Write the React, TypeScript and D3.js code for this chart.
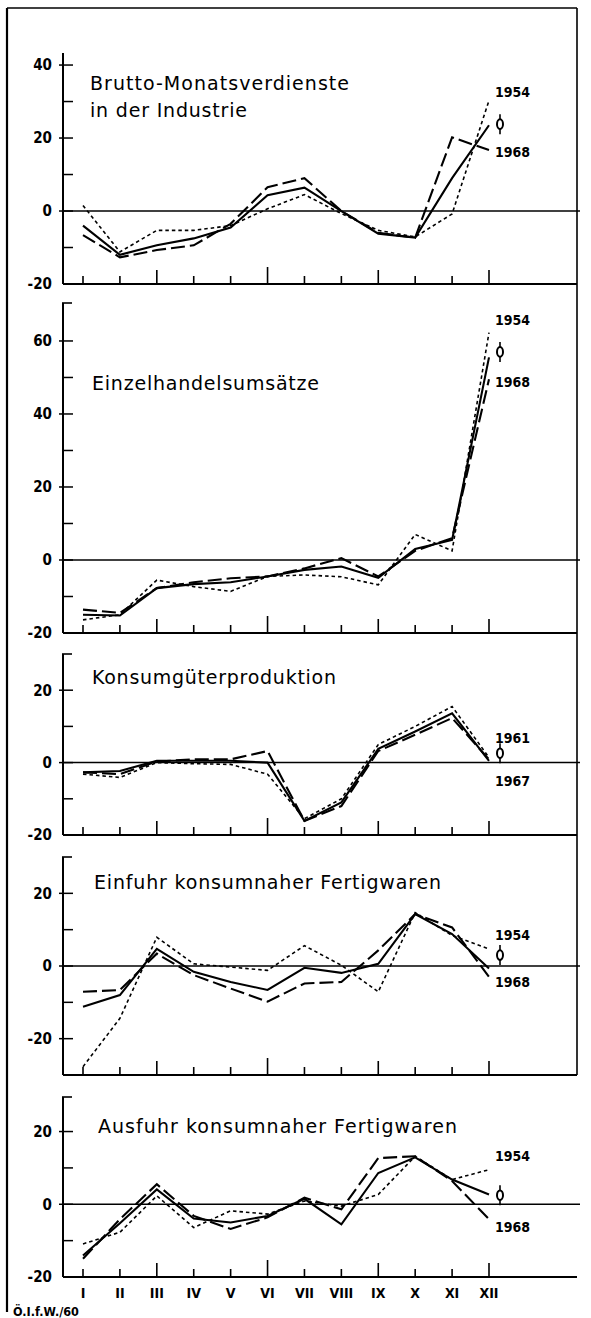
import * as d3 from 'd3';

const months = ['I', 'II', 'III', 'IV', 'V', 'VI', 'VII', 'VIII', 'IX', 'X', 'XI', 'XII'];

// Brutto-Monatsverdienste in der Industrie
const bruttoAvg = [-4, -12, -9.4, -7.5, -4.5, 4.3, 6.4, 0, -6.2, -7.3, 9, 23.5];
const brutto1968 = [-6.6, -12.7, -10.7, -9.4, -3.5, 6.5, 9, 0, -6, -7.3, 20.2, 16.7];
const brutto1954 = [1.5, -11.2, -5.3, -5.3, -4, 0.6, 4.5, -0.7, -5.3, -7.1, -0.8, 30.3];

// Einzelhandelsumsätze
const handelAvg = [-15, -15.2, -7.7, -6.6, -6.1, -4.5, -2.7, -1.8, -4.9, 3, 5.5, 55.5];
const handel1968 = [-13.6, -14.5, -7.7, -6.1, -5, -4.5, -2.3, 0.5, -4.5, 2.5, 6, 49.5];
const handel1954 = [-16.4, -15, -5.5, -7.3, -8.6, -4.5, -4.1, -4.6, -6.8, 7, 2.5, 62.3];

// Konsumgüterproduktion
const konsumAvg = [-2.7, -2.3, 0.5, 0.5, 0.5, 0, -16.1, -11, 3.8, 8.6, 13.6, 0.5];
const konsum1967 = [-2.7, -3.2, 0.3, 0.9, 0.9, 3.2, -16.1, -12, 3.2, 7.7, 12.3, 0.9];
const konsum1961 = [-3.2, -4.1, 0, -0.3, -0.5, -3.2, -15.5, -10, 5, 10, 15.5, 1.4];

// Einfuhr konsumnaher Fertigwaren
const einfuhrAvg = [-11.2, -8, 4.7, -1.6, -4.4, -6.6, -0.5, -1.9, 0.6, 14.3, 8.8, -0.7];
const einfuhr1968 = [-7.1, -6.6, 3.4, -2.5, -6.2, -9.8, -4.8, -4.4, 4.3, 14.3, 10.6, -3];
const einfuhr1954 = [-27.7, -14.4, 7.9, 0.6, -0.3, -1.2, 5.6, 0.2, -7.1, 14.7, 8.4, 4.7];

// Ausfuhr konsumnaher Fertigwaren
const ausfuhrAvg = [-14.1, -5.2, 4.1, -3.9, -5, -3.2, 1.5, -5.5, 8.6, 12.9, 6.8, 2.7];
const ausfuhr1968 = [-15, -4.1, 5.5, -3.2, -6.8, -3.6, 1.8, -1.4, 12.7, 13.2, 6.4, -4.1];
const ausfuhr1954 = [-10.9, -7.7, 2.3, -6.4, -1.8, -2.7, 0.9, -0.5, 2.7, 13.2, 6.8, 9.5];

const FONT_TITLE = '"DejaVu Sans", sans-serif';
const FONT_NUM = '"DejaVu Sans Condensed", "DejaVu Sans", sans-serif';

interface PanelDef {
  title: string[];
  titleX: number;
  titleY: number[];
  titleLen: number[];
  domain: [number, number];
  range: [number, number];
  ticks: number[];
  minor: number[];
  bracket: boolean;
  avg: number[];
  recent: number[];
  early: number[];
  yearTop: string;
  yearBottom: string;
  labelVals: [number, number, number];
}

const panels: PanelDef[] = [
  {
    title: ['Brutto-Monatsverdienste', 'in der Industrie'], titleX: 90, titleY: [90, 117], titleLen: [259, 157],
    domain: [-20, 43.3], range: [284, 53], ticks: [40, 20, 0, -20], minor: [30, 10, -10], bracket: false,
    avg: bruttoAvg, recent: brutto1968, early: brutto1954, yearTop: '1954', yearBottom: '1968', labelVals: [32.6, 23.8, 16.2],
  },
  {
    title: ['Einzelhandelsumsätze'], titleX: 92, titleY: [390], titleLen: [227],
    domain: [-20, 70.4], range: [633, 303], ticks: [60, 40, 20, 0, -20], minor: [50, 30, 10, -10], bracket: true,
    avg: handelAvg, recent: handel1968, early: handel1954, yearTop: '1954', yearBottom: '1968', labelVals: [65.8, 57, 48.8],
  },
  {
    title: ['Konsumgüterproduktion'], titleX: 92, titleY: [684], titleLen: [244],
    domain: [-20, 30], range: [835, 654], ticks: [20, 0, -20], minor: [10, -10], bracket: true,
    avg: konsumAvg, recent: konsum1967, early: konsum1961, yearTop: '1961', yearBottom: '1967', labelVals: [6.9, 2.6, -5],
  },
  {
    title: ['Einfuhr konsumnaher Fertigwaren'], titleX: 94, titleY: [889], titleLen: [347],
    domain: [-30, 30], range: [1075, 857], ticks: [20, 0, -20], minor: [10, -10], bracket: true,
    avg: einfuhrAvg, recent: einfuhr1968, early: einfuhr1954, yearTop: '1954', yearBottom: '1968', labelVals: [8.5, 3, -4.4],
  },
  {
    title: ['Ausfuhr konsumnaher Fertigwaren'], titleX: 98, titleY: [1133], titleLen: [359],
    domain: [-20, 29.5], range: [1277, 1097], ticks: [20, 0, -20], minor: [10, -10], bracket: true,
    avg: ausfuhrAvg, recent: ausfuhr1968, early: ausfuhr1954, yearTop: '1954', yearBottom: '1968', labelVals: [13.2, 2.5, -6.3],
  },
];

const AXIS_X = 63;
const RIGHT_X = 577;
const x = d3.scalePoint<string>().domain(months).range([83, 489]);

// the average sign: an oval crossed by a vertical stroke
function AvgSign({ cx, cy }: { cx: number; cy: number }) {
  return (
    <g>
      <line x1={cx} x2={cx} y1={cy - 10} y2={cy + 10} stroke="#000" strokeWidth={1.6} />
      <ellipse cx={cx} cy={cy} rx={3} ry={4.8} fill="#fff" stroke="#000" strokeWidth={2} />
    </g>
  );
}

function Panel({ p, last }: { p: PanelDef; last: boolean }) {
  const y = d3.scaleLinear().domain(p.domain).range(p.range);
  const line = d3.line<number>().x((_, i) => x(months[i])!).y(d => y(d));
  const bottom = y(p.domain[0]);
  const top = y(p.domain[1]);
  const lx = x('XII')!;
  return (
    <g>
      {/* y axis */}
      <line x1={AXIS_X} x2={AXIS_X} y1={top} y2={bottom} stroke="#000" strokeWidth={2} />
      {p.bracket && <line x1={AXIS_X - 1} x2={AXIS_X + 9} y1={top} y2={top} stroke="#000" strokeWidth={1.6} />}
      {p.ticks.filter(t => t !== p.domain[0]).map(t => (
        <line key={'t' + t} x1={AXIS_X - 4} x2={AXIS_X + 10} y1={y(t)} y2={y(t)} stroke="#000" strokeWidth={1.5} />
      ))}
      {p.minor.map(t => (
        <line key={'m' + t} x1={AXIS_X} x2={AXIS_X + 10} y1={y(t)} y2={y(t)} stroke="#000" strokeWidth={1.5} />
      ))}
      {p.ticks.map(t => (
        <text key={'l' + t} x={52} y={y(t)} dy="0.36em" textAnchor="end" fontFamily={FONT_NUM}
          fontWeight="bold" fontSize={15}>{t < 0 ? `-${-t}` : t}</text>
      ))}
      {/* zero line and bottom axis */}
      <line x1={AXIS_X} x2={RIGHT_X + 3} y1={y(0)} y2={y(0)} stroke="#000" strokeWidth={1.5} />
      <line x1={AXIS_X} x2={RIGHT_X} y1={bottom} y2={bottom} stroke="#000" strokeWidth={2} />
      {months.map((m, i) => {
        const h = i === 5 ? 17 : (i + 1) % 3 === 0 ? 14 : 8;
        return <line key={m} x1={x(m)} x2={x(m)} y1={bottom} y2={bottom - h} stroke="#000" strokeWidth={1.6} />;
      })}
      {last && months.map(m => (
        <text key={'x' + m} x={x(m)} y={bottom + 16} dy="0.36em" textAnchor="middle" fontFamily={FONT_NUM}
          fontWeight="bold" fontSize={14}>{m}</text>
      ))}
      {/* title */}
      {p.title.map((t, i) => (
        <text key={t} x={p.titleX} y={p.titleY[i]} fontFamily={FONT_TITLE} fontSize={19}
          textLength={p.titleLen[i]} lengthAdjust="spacing">{t}</text>
      ))}
      {/* series */}
      <path d={line(p.early)!} fill="none" stroke="#000" strokeWidth={1.6} strokeDasharray="3.5,3" />
      <path d={line(p.recent)!} fill="none" stroke="#000" strokeWidth={2.1} strokeDasharray="14,5" />
      <path d={line(p.avg)!} fill="none" stroke="#000" strokeWidth={2.1} />
      {/* series labels */}
      <text x={lx + 6} y={y(p.labelVals[0])} dy="0.36em" fontFamily={FONT_NUM} fontWeight="bold" fontSize={14}>{p.yearTop}</text>
      <AvgSign cx={lx + 11} cy={y(p.labelVals[1])} />
      <text x={lx + 6} y={y(p.labelVals[2])} dy="0.36em" fontFamily={FONT_NUM} fontWeight="bold" fontSize={14}>{p.yearBottom}</text>
    </g>
  );
}

export default function App() {
  return (
    <svg width={591} height={1318} viewBox="0 0 591 1318"
      style={{ position: 'absolute', left: 0, top: 0, background: '#fff' }}>
      <rect x={0} y={0} width={591} height={1318} fill="#fff" />
      {/* outer frame */}
      <line x1={7} x2={RIGHT_X} y1={8} y2={8} stroke="#000" strokeWidth={1.5} />
      <line x1={7} x2={7} y1={8} y2={1312} stroke="#000" strokeWidth={2.2} />
      <line x1={RIGHT_X} x2={RIGHT_X} y1={8} y2={1075} stroke="#000" strokeWidth={1.6} />
      {panels.map((p, i) => <Panel key={i} p={p} last={i === panels.length - 1} />)}
      <text x={13} y={1316} fontFamily={FONT_NUM} fontWeight="bold" fontSize={12.5}>Ö.I.f.W./60</text>
    </svg>
  );
}
